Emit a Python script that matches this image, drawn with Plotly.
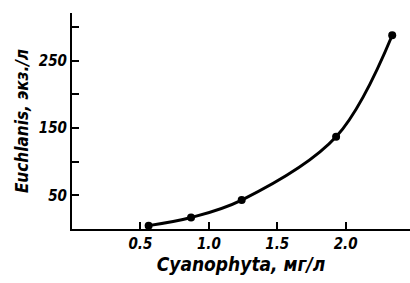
import plotly.graph_objects as go

cyanophyta = [0.56, 0.87, 1.24, 1.93, 2.34]
euchlanis = [5, 17, 43, 137, 288]

x_tickvals = [0.5, 1.0, 1.5, 2.0]
x_ticktext = ["0.5", "1.0", "1.5", "2.0"]
y_tickvals = [50, 100, 150, 200, 250, 300]
y_ticktext = ["50", "", "150", "", "250", ""]

FONT = "DejaVu Sans Condensed, DejaVu Sans, sans-serif"

fig = go.Figure()
fig.add_trace(go.Scatter(
    x=cyanophyta, y=euchlanis, mode="lines+markers",
    line=dict(color="black", width=3, shape="spline", smoothing=1.0),
    marker=dict(color="black", size=8),
    showlegend=False,
))

fig.update_layout(
    width=410, height=283,
    margin=dict(l=72, r=0, t=13, b=54),
    plot_bgcolor="white", paper_bgcolor="white",
    font=dict(family=FONT, color="black", style="italic", weight="bold"),
    xaxis=dict(
        range=[0, 2.47], showgrid=False, zeroline=False, automargin=False,
        showline=True, linecolor="black", linewidth=2,
        ticks="inside", ticklen=7, tickwidth=2, tickcolor="black",
        tickvals=x_tickvals, ticktext=x_ticktext,
        tickfont=dict(family=FONT, size=15, style="italic", weight="bold"),
        title=dict(text="Cyanophyta, мг/л", standoff=5,
                   font=dict(family=FONT, size=19, style="italic", weight="bold")),
    ),
    yaxis=dict(
        range=[0, 321], showgrid=False, zeroline=False, automargin=False,
        showline=True, linecolor="black", linewidth=2,
        ticks="inside", ticklen=7, tickwidth=2, tickcolor="black",
        tickvals=y_tickvals, ticktext=y_ticktext,
        tickfont=dict(family=FONT, size=15, style="italic", weight="bold"),
        title=dict(text="Euchlanis, экз./л", standoff=6,
                   font=dict(family=FONT, size=17, style="italic", weight="bold")),
    ),
)

fig.write_html("out.html", config={"displayModeBar": False},
               post_script="document.body.style.margin='0';")
